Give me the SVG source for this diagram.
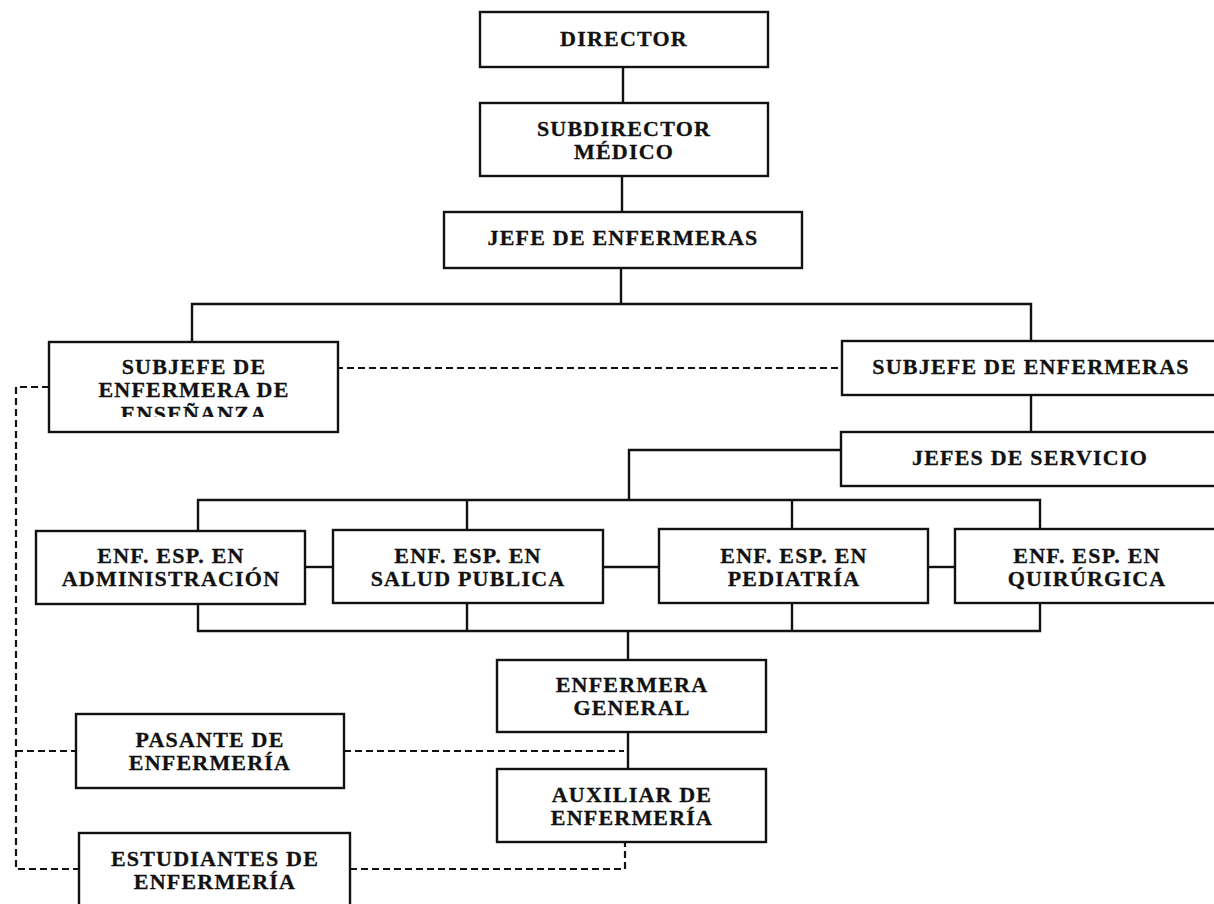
<svg xmlns="http://www.w3.org/2000/svg" width="1214" height="904" viewBox="0 0 1214 904">
  <style>
    .box { fill: #ffffff; stroke: #111111; stroke-width: 2.4; }
    .lbl { font-family: "Liberation Serif", "Times New Roman", serif; font-weight: bold; font-size: 22px; letter-spacing: 1.2px; fill: #111111; stroke: #111111; stroke-width: 0.3; text-anchor: middle; }
    .ln { fill: none; stroke: #111111; stroke-width: 2.4; }
    .dash { fill: none; stroke: #111111; stroke-width: 2.2; stroke-dasharray: 7 4; }
  </style>
  <defs>
    <clipPath id="clipEnsenanza">
      <rect x="50" y="343" width="287" height="74"/>
    </clipPath>
  </defs>
  <rect x="0" y="0" width="1214" height="904" fill="#ffffff"/>

  <!-- connectors -->
  <g id="connectors">
    <!-- solid reporting lines -->
    <path class="ln" d="M623,67 V103"/>
    <path class="ln" d="M622,176 V212"/>
    <path class="ln" d="M621,268 V304"/>
    <path class="ln" d="M192,342 V304 H1031 V341"/>
    <path class="ln" d="M1031,395 V432"/>
    <path class="ln" d="M841,450 H629 V500"/>
    <path class="ln" d="M198,530 V500 H1040 V530"/>
    <path class="ln" d="M467,500 V530"/>
    <path class="ln" d="M792,500 V530"/>
    <path class="ln" d="M305,567 H333"/>
    <path class="ln" d="M603,567 H659"/>
    <path class="ln" d="M928,567 H955"/>
    <path class="ln" d="M198,603 V631 H1040 V603"/>
    <path class="ln" d="M467,603 V631"/>
    <path class="ln" d="M792,603 V631"/>
    <path class="ln" d="M628,631 V660"/>
    <path class="ln" d="M628,732 V769"/>
    <!-- dashed coordination lines -->
    <path class="dash" d="M325,368 H862"/>
    <path class="dash" d="M49,387 H16 V869 H79"/>
    <path class="dash" d="M16,751 H76"/>
    <path class="dash" d="M344,751 H624"/>
    <path class="dash" d="M350,869 H625 V842"/>
  </g>

  <g id="director">
    <rect class="box" x="480" y="12" width="288" height="55"/>
    <text class="lbl" x="624" y="46">DIRECTOR</text>
  </g>

  <g id="subdirector-medico">
    <rect class="box" x="480" y="103" width="288" height="73"/>
    <text class="lbl" x="624" y="136">SUBDIRECTOR</text>
    <text class="lbl" x="624" y="159">MÉDICO</text>
  </g>

  <g id="jefe-enfermeras">
    <rect class="box" x="444" y="212" width="358" height="56"/>
    <text class="lbl" x="623" y="245">JEFE DE ENFERMERAS</text>
  </g>

  <g id="subjefe-ensenanza">
    <rect class="box" x="49" y="342" width="289" height="90"/>
    <text class="lbl" x="194" y="374">SUBJEFE DE</text>
    <text class="lbl" x="194" y="397">ENFERMERA DE</text>
    <text class="lbl" x="194" y="421" clip-path="url(#clipEnsenanza)">ENSEÑANZA</text>
  </g>

  <g id="subjefe-enfermeras">
    <rect class="box" x="842" y="341" width="380" height="54"/>
    <text class="lbl" x="1031" y="374">SUBJEFE DE ENFERMERAS</text>
  </g>

  <g id="jefes-servicio">
    <rect class="box" x="841" y="432" width="380" height="54"/>
    <text class="lbl" x="1030" y="465">JEFES DE SERVICIO</text>
  </g>

  <g id="esp-administracion">
    <rect class="box" x="36" y="531" width="269" height="73"/>
    <text class="lbl" x="171" y="563">ENF. ESP. EN</text>
    <text class="lbl" x="171" y="586">ADMINISTRACIÓN</text>
  </g>

  <g id="esp-salud-publica">
    <rect class="box" x="333" y="530" width="270" height="73"/>
    <text class="lbl" x="468" y="563">ENF. ESP. EN</text>
    <text class="lbl" x="468" y="586">SALUD PUBLICA</text>
  </g>

  <g id="esp-pediatria">
    <rect class="box" x="659" y="529" width="269" height="74"/>
    <text class="lbl" x="794" y="563">ENF. ESP. EN</text>
    <text class="lbl" x="794" y="586">PEDIATRÍA</text>
  </g>

  <g id="esp-quirurgica">
    <rect class="box" x="955" y="529" width="266" height="74"/>
    <text class="lbl" x="1087" y="563">ENF. ESP. EN</text>
    <text class="lbl" x="1087" y="586">QUIRÚRGICA</text>
  </g>

  <g id="enfermera-general">
    <rect class="box" x="497" y="660" width="269" height="72"/>
    <text class="lbl" x="632" y="692">ENFERMERA</text>
    <text class="lbl" x="632" y="715">GENERAL</text>
  </g>

  <g id="pasante">
    <rect class="box" x="76" y="714" width="268" height="74"/>
    <text class="lbl" x="210" y="747">PASANTE DE</text>
    <text class="lbl" x="210" y="770">ENFERMERÍA</text>
  </g>

  <g id="auxiliar">
    <rect class="box" x="497" y="769" width="269" height="73"/>
    <text class="lbl" x="632" y="802">AUXILIAR DE</text>
    <text class="lbl" x="632" y="825">ENFERMERÍA</text>
  </g>

  <g id="estudiantes">
    <rect class="box" x="79" y="833" width="271" height="80"/>
    <text class="lbl" x="215" y="866">ESTUDIANTES DE</text>
    <text class="lbl" x="215" y="889">ENFERMERÍA</text>
  </g>
</svg>
